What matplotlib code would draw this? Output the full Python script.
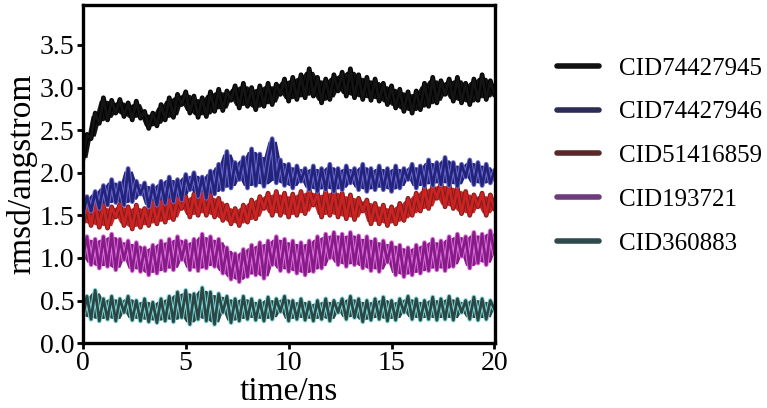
import numpy as np
import pandas as pd
import matplotlib
matplotlib.use("Agg")
import matplotlib.pyplot as plt
from matplotlib.lines import Line2D

plt.rcParams['font.family'] = ['Liberation Serif', 'DejaVu Serif']

# time axis, one sample every 0.2 ns
time_ns = np.linspace(0, 20, 101)

labels = ['CID74427945', 'CID74427946', 'CID51416859', 'CID193721', 'CID360883']

cid74427945 = [2.15, 2.45, 2.40, 2.70, 2.58, 2.88, 2.62, 2.85, 2.70, 2.86,
               2.66, 2.82, 2.62, 2.84, 2.64, 2.72, 2.52, 2.70, 2.55, 2.80,
               2.62, 2.88, 2.65, 2.92, 2.80, 2.95, 2.70, 2.90, 2.65, 2.88,
               2.66, 2.95, 2.72, 2.98, 2.73, 2.96, 2.85, 3.02, 2.76, 3.05,
               2.78, 3.00, 2.74, 3.02, 2.78, 3.05, 2.80, 3.04, 2.92, 3.10,
               2.84, 3.12, 2.86, 3.15, 2.88, 3.22, 2.90, 3.12, 2.82, 3.10,
               2.86, 3.15, 2.96, 3.18, 2.90, 3.22, 2.88, 3.15, 2.86, 3.12,
               2.85, 3.10, 2.84, 3.05, 2.80, 3.02, 2.76, 2.98, 2.72, 2.95,
               2.70, 2.96, 2.74, 3.05, 2.78, 3.12, 2.82, 3.08, 2.92, 3.10,
               2.84, 3.12, 2.82, 3.05, 2.80, 3.10, 2.85, 3.15, 2.86, 3.08,
               2.92]
cid74427946 = [1.50, 1.72, 1.55, 1.78, 1.58, 1.85, 1.62, 1.92, 1.65, 1.88,
               1.62, 2.05, 1.66, 1.90, 1.75, 1.88, 1.60, 1.85, 1.62, 1.90,
               1.64, 1.95, 1.66, 1.92, 1.68, 1.98, 1.80, 2.00, 1.72, 1.95,
               1.70, 2.02, 1.75, 2.10, 1.80, 2.25, 1.82, 2.12, 1.92, 2.18,
               1.82, 2.28, 1.85, 2.22, 1.84, 2.15, 2.40, 1.88, 2.15, 1.85,
               2.10, 1.82, 2.08, 1.90, 2.05, 1.80, 2.08, 1.78, 2.05, 1.80,
               2.10, 1.78, 2.05, 1.80, 2.08, 1.88, 2.05, 1.80, 2.10, 1.78,
               2.05, 1.80, 2.08, 1.80, 2.05, 1.78, 2.08, 1.82, 2.05, 1.92,
               2.10, 1.82, 2.08, 1.84, 2.15, 1.85, 2.12, 1.86, 2.18, 1.85,
               2.12, 1.84, 2.10, 1.95, 2.15, 1.86, 2.12, 1.85, 2.10, 1.88,
               2.02]
cid51416859 = [1.40, 1.62, 1.38, 1.65, 1.36, 1.62, 1.35, 1.60, 1.48, 1.63,
               1.38, 1.60, 1.34, 1.62, 1.36, 1.58, 1.38, 1.65, 1.40, 1.66,
               1.42, 1.68, 1.45, 1.70, 1.58, 1.72, 1.48, 1.75, 1.50, 1.76,
               1.50, 1.74, 1.48, 1.70, 1.44, 1.62, 1.40, 1.58, 1.38, 1.62,
               1.42, 1.68, 1.46, 1.72, 1.58, 1.76, 1.50, 1.78, 1.50, 1.76,
               1.48, 1.75, 1.50, 1.78, 1.52, 1.80, 1.62, 1.76, 1.48, 1.78,
               1.50, 1.80, 1.48, 1.76, 1.46, 1.74, 1.45, 1.70, 1.55, 1.68,
               1.40, 1.64, 1.40, 1.62, 1.38, 1.60, 1.40, 1.64, 1.44, 1.70,
               1.50, 1.76, 1.55, 1.82, 1.58, 1.85, 1.70, 1.88, 1.60, 1.86,
               1.58, 1.82, 1.52, 1.78, 1.50, 1.74, 1.60, 1.76, 1.50, 1.74,
               1.58]
cid193721 = [1.00, 1.25, 0.92, 1.22, 0.88, 1.25, 0.90, 1.28, 0.86, 1.22,
             0.98, 1.20, 0.85, 1.18, 0.84, 1.12, 0.80, 1.15, 0.82, 1.20,
             0.85, 1.22, 0.86, 1.25, 0.98, 1.20, 0.86, 1.22, 0.85, 1.28,
             0.88, 1.25, 0.90, 1.22, 0.82, 1.12, 0.75, 1.05, 0.72, 1.10,
             0.78, 1.15, 0.80, 1.18, 0.76, 1.20, 0.92, 1.25, 0.85, 1.22,
             0.84, 1.20, 0.82, 1.18, 0.80, 1.20, 0.84, 1.25, 0.88, 1.28,
             1.00, 1.30, 0.92, 1.28, 0.90, 1.30, 0.92, 1.26, 0.88, 1.25,
             0.85, 1.22, 0.84, 1.20, 0.95, 1.18, 0.80, 1.15, 0.78, 1.12,
             0.80, 1.15, 0.82, 1.18, 0.85, 1.22, 0.86, 1.20, 0.85, 1.25,
             0.90, 1.28, 1.02, 1.25, 0.88, 1.30, 0.94, 1.28, 0.92, 1.32,
             1.05]
cid360883 = [0.30, 0.55, 0.28, 0.62, 0.26, 0.52, 0.28, 0.55, 0.26, 0.52,
             0.36, 0.55, 0.27, 0.50, 0.26, 0.52, 0.25, 0.48, 0.24, 0.52,
             0.26, 0.55, 0.25, 0.60, 0.30, 0.62, 0.22, 0.58, 0.28, 0.65,
             0.26, 0.60, 0.22, 0.58, 0.36, 0.55, 0.24, 0.52, 0.26, 0.55,
             0.28, 0.52, 0.27, 0.50, 0.26, 0.54, 0.28, 0.52, 0.37, 0.55,
             0.26, 0.50, 0.28, 0.52, 0.27, 0.48, 0.26, 0.50, 0.28, 0.52,
             0.26, 0.50, 0.36, 0.52, 0.28, 0.55, 0.30, 0.52, 0.25, 0.50,
             0.27, 0.52, 0.28, 0.54, 0.26, 0.50, 0.27, 0.52, 0.36, 0.55,
             0.28, 0.52, 0.27, 0.50, 0.28, 0.54, 0.27, 0.52, 0.28, 0.55,
             0.27, 0.52, 0.36, 0.50, 0.28, 0.54, 0.27, 0.52, 0.28, 0.50,
             0.40]

series = [cid74427945, cid74427946, cid51416859, cid193721, cid360883]
colors = ['#141414', '#23237a', '#cc2222', '#861c86', '#2b4644']
edges = ['#000000', '#6a6ad0', '#7a1e1e', '#e070e0', '#7ad8d8']
legend_colors = ['#111111', '#2c2c55', '#5a2828', '#6e3c7c', '#2f4a4a']

fig = plt.figure(figsize=(7.67, 4.08), dpi=100)
ax = fig.add_axes([0.108, 0.159, 0.538, 0.829])

# draw bottom series first so the upper ones sit on top
for vals, c, e in list(zip(series, colors, edges))[::-1]:
    s = pd.Series(vals)
    # local envelope of the noisy trace, so the band looks solid
    hi = s.rolling(3, center=True, min_periods=1).max() - 0.03
    lo = s.rolling(3, center=True, min_periods=1).min() + 0.03
    ax.plot(time_ns, vals, color=e, lw=3.4)
    ax.fill_between(time_ns, lo, hi, color=c, lw=0)
    ax.plot(time_ns, vals, color=c, lw=2.0)

ax.set_xlim(0, 20.05)
ax.set_ylim(0, 3.97)
ax.set_xticks([0, 5, 10, 15, 20])
ax.set_yticks([0.0, 0.5, 1.0, 1.5, 2.0, 2.5, 3.0, 3.5])
ax.set_yticklabels(['0.0', '0.5', '1.0', '1.5', '2.0', '2.5', '3.0', '3.5'])
ax.tick_params(direction='out', length=4, width=2, labelsize=20, pad=2)
for sp in ax.spines.values():
    sp.set_linewidth(2.4)
ax.set_xlabel('time/ns', fontsize=24, labelpad=0)
ax.set_ylabel('rmsd/angstrom', fontsize=24, labelpad=2)

handles = [Line2D([0], [0], color=c, lw=4, solid_capstyle='round') for c in legend_colors]
fig.legend(handles, labels, loc='upper left', bbox_to_anchor=(0.726, 0.86),
           frameon=False, fontsize=18, handlelength=1.7, handletextpad=0.8,
           labelspacing=0.85, borderaxespad=0, borderpad=0)

fig.savefig('out.png', dpi=100)
